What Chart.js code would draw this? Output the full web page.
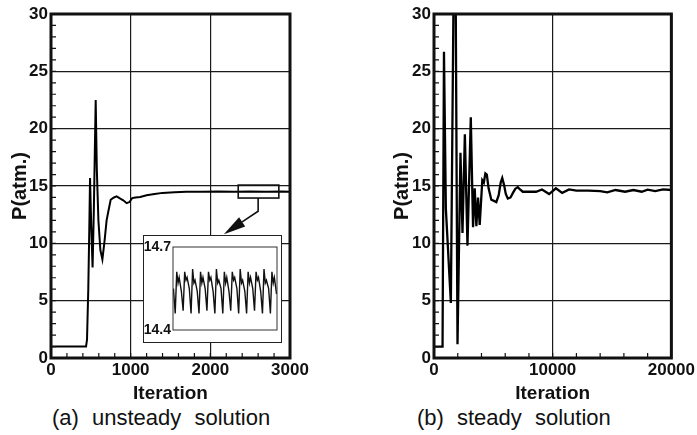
<!DOCTYPE html>
<html><head><meta charset="utf-8">
<script src="https://cdn.jsdelivr.net/npm/chart.js@4.4.1/dist/chart.umd.min.js"></script>
<style>
html,body{margin:0;padding:0;background:#fff;width:697px;height:435px;overflow:hidden;position:relative;font-family:'Liberation Sans',Arial,sans-serif;}
canvas{position:absolute;}
#ca{left:0;top:0;}
#cb{left:380px;top:0;}
#inset{position:absolute;left:143px;top:235px;width:139px;height:108px;box-sizing:border-box;border:1px solid #222;background:#fff;}
#ci{left:0;top:0;}
.cap{position:absolute;top:406px;font-size:22px;line-height:24px;word-spacing:7px;color:#111;white-space:nowrap;}
</style></head><body>
<canvas id="ca" width="345" height="405"></canvas>
<canvas id="cb" width="317" height="405"></canvas>
<div id="inset"><canvas id="ci" width="137" height="106"></canvas></div>
<div class="cap" style="left:52px">(a) unsteady solution</div>
<div class="cap" style="left:417px">(b) steady solution</div>
<script>
// ---- data ----
const iterA  = [0, 440, 452, 468, 480, 490, 505, 522, 538, 550, 561, 575, 595, 620, 645, 672, 698, 720, 749, 790, 824, 870, 907, 950, 985, 1020, 1060, 1120, 1200, 1300, 1400, 1550, 1700, 1900, 2100, 2300, 2500, 2700, 2900, 3000];
const pressA = [1.0, 1.0, 1.6, 6.0, 11.0, 15.7, 11.5, 7.9, 13.0, 18.0, 22.5, 16.5, 12.0, 9.4, 8.6, 10.2, 12.0, 12.8, 13.8, 14.0, 14.1, 13.9, 13.75, 13.5, 13.6, 13.95, 14.0, 14.05, 14.2, 14.3, 14.4, 14.45, 14.5, 14.5, 14.52, 14.5, 14.52, 14.5, 14.52, 14.5];

const iterB  = [0, 720, 840, 1000, 1420, 1760, 1980, 2230, 2400, 2600, 2820, 3100, 3290, 3430, 3570, 3710, 3850, 4070, 4200, 4330, 4450, 4600, 4830, 5050, 5250, 5450, 5620, 5750, 5900, 6050, 6220, 6450, 6650, 6850, 7060, 7250, 7480, 8000, 8600, 9100, 9700, 10270, 10800, 11380, 12000, 13000, 14000, 14600, 15300, 16100, 16800, 17500, 18000, 18640, 19300, 20000];
const pressB = [1.0, 1.0, 26.7, 13.0, 4.8, 45.0, 1.2, 17.9, 10.9, 19.5, 9.8, 21.0, 11.4, 14.8, 11.5, 14.0, 11.6, 15.5, 15.3, 16.1, 16.0, 14.8, 13.8, 13.7, 13.6, 14.2, 15.3, 15.7, 15.1, 14.3, 13.9, 14.0, 14.4, 14.75, 14.9, 14.7, 14.5, 14.5, 14.5, 14.7, 14.3, 14.8, 14.4, 14.7, 14.6, 14.6, 14.55, 14.45, 14.65, 14.5, 14.65, 14.5, 14.68, 14.55, 14.7, 14.65];

const insetIter  = [2392,
  2400,2407,2413,2418,2428, 2436,2443,2449,2454,2464, 2472,2479,2485,2490,2500,
  2508,2515,2521,2526,2536, 2544,2551,2557,2562,2572, 2580,2587,2593,2598,2608,
  2616,2623,2629,2634,2644, 2652,2659,2665,2670,2680, 2688,2695,2701,2706,2716,
  2724,2731,2737,2742,2752, 2760,2767,2773,2778,2788, 2796,2803,2809,2814,2824,
  2832,2839,2845,2850,2860];
const insetPress = [14.55,
  14.46,14.61,14.57,14.59,14.54, 14.47,14.61,14.58,14.59,14.55, 14.46,14.62,14.57,14.58,14.54,
  14.46,14.61,14.57,14.59,14.55, 14.47,14.61,14.58,14.59,14.54, 14.46,14.62,14.57,14.58,14.55,
  14.46,14.61,14.57,14.59,14.54, 14.47,14.61,14.58,14.59,14.55, 14.46,14.62,14.57,14.58,14.54,
  14.46,14.61,14.57,14.59,14.55, 14.47,14.61,14.58,14.59,14.54, 14.46,14.62,14.57,14.58,14.55,
  14.46,14.61,14.57,14.59,14.53];

const yTickLabels      = [0, 5, 10, 15, 20, 25, 30];
const xTickLabelsA     = [0, 1000, 2000, 3000];
const xTickLabelsB     = [0, 10000, 20000];
const insetYTickLabels = [14.4, 14.7];

// zoom marker (data units of chart a)
const zoomBox   = {x0: 2350, x1: 2860, y0: 13.95, y1: 15.08};
const arrowPath = [[2600, 13.95], [2600, 12.8], [2170, 10.8]];

Chart.defaults.font.family = "'Liberation Sans', Arial, sans-serif";
Chart.defaults.color = '#111';

// frame + inward minor ticks (axis decoration)
const framePlugin = {
  id: 'frame',
  afterDatasetsDraw(chart, args, opts) {
    const {left, top, right, bottom} = chart.chartArea;
    const ctx = chart.ctx;
    ctx.save();
    if (opts.xStep || opts.yStep) {
      ctx.strokeStyle = '#111'; ctx.lineWidth = 1.2;
      const len = opts.tickLen || 5;
      ctx.beginPath();
      if (opts.xStep) {
        const xs = chart.scales.x;
        for (let v = xs.min; v <= xs.max + 1e-9; v += opts.xStep) {
          const p = xs.getPixelForValue(v);
          ctx.moveTo(p, bottom); ctx.lineTo(p, bottom - len);
        }
      }
      if (opts.yStep) {
        const ys = chart.scales.y;
        for (let v = ys.min; v <= ys.max + 1e-9; v += opts.yStep) {
          const p = ys.getPixelForValue(v);
          ctx.moveTo(left, p); ctx.lineTo(left + len, p);
        }
      }
      ctx.stroke();
    }
    ctx.strokeStyle = opts.color || '#111';
    ctx.lineWidth = opts.width || 3;
    ctx.strokeRect(left, top, right - left, bottom - top);
    ctx.restore();
  }
};

const zoomMarkPlugin = {
  id: 'zoomMark',
  afterDatasetsDraw(chart) {
    const xs = chart.scales.x, ys = chart.scales.y, ctx = chart.ctx;
    const x0 = xs.getPixelForValue(zoomBox.x0), x1 = xs.getPixelForValue(zoomBox.x1);
    const y0 = ys.getPixelForValue(zoomBox.y1), y1 = ys.getPixelForValue(zoomBox.y0);
    ctx.save();
    ctx.strokeStyle = '#111'; ctx.fillStyle = '#111'; ctx.lineWidth = 1.6;
    ctx.strokeRect(x0, y0, x1 - x0, y1 - y0);
    const pts = arrowPath.map(([a, b]) => [xs.getPixelForValue(a), ys.getPixelForValue(b)]);
    const [tx, ty] = pts[pts.length - 1], [px, py] = pts[pts.length - 2];
    const ang = Math.atan2(ty - py, tx - px), headLen = 22, headW = 5.5;
    const bx = tx - headLen * Math.cos(ang), by = ty - headLen * Math.sin(ang);
    ctx.beginPath();
    ctx.moveTo(pts[0][0], pts[0][1]);
    for (let i = 1; i < pts.length - 1; i++) ctx.lineTo(pts[i][0], pts[i][1]);
    ctx.lineTo(bx, by);
    ctx.stroke();
    ctx.beginPath();
    ctx.moveTo(tx, ty);
    ctx.lineTo(bx + headW * Math.sin(ang), by - headW * Math.cos(ang));
    ctx.lineTo(bx - headW * Math.sin(ang), by + headW * Math.cos(ang));
    ctx.closePath(); ctx.fill();
    ctx.restore();
  }
};

function mainChart(id, iters, press, xMax, xStep, xLabels, extra, yAxisW, yTitlePad, padRight, lw) {
  return new Chart(document.getElementById(id), {
    type: 'line',
    data: {datasets: [{
      data: iters.map((x, i) => ({x: x, y: press[i]})),
      borderColor: '#000', borderWidth: lw, pointRadius: 0, tension: 0, fill: false
    }]},
    options: {
      responsive: false, animation: false, devicePixelRatio: 1,
      layout: {padding: {left: 0, top: 14, right: padRight, bottom: 0}},
      plugins: {legend: {display: false}, tooltip: {enabled: false},
                frame: {width: 3, color: '#111', xStep: xStep, yStep: 1, tickLen: 5}},
      scales: {
        x: {
          type: 'linear', min: 0, max: xMax, position: 'bottom',
          border: {display: false},
          afterBuildTicks: s => { s.ticks = xLabels.map(v => ({value: v})); },
          grid: {color: '#1a1a1a', lineWidth: 1.2, drawTicks: false},
          ticks: {autoSkip: false, maxRotation: 0, padding: 2, color: '#111',
                  font: {size: 17, weight: 'bold'}, callback: v => String(v)},
          title: {display: true, text: 'Iteration', color: '#111', font: {size: 19, weight: 'bold'}, padding: {top: 0, bottom: 0}},
          afterFit: s => { s.height = 47; }
        },
        y: {
          type: 'linear', min: 0, max: 30, position: 'left',
          border: {display: false},
          afterBuildTicks: s => { s.ticks = yTickLabels.map(v => ({value: v})); },
          grid: {color: '#1a1a1a', lineWidth: 1.2, drawTicks: false},
          ticks: {autoSkip: false, padding: 3, color: '#111',
                  font: {size: 17, weight: 'bold'}, callback: v => String(v)},
          title: {display: true, text: 'P(atm.)', color: '#111', font: {size: 20, weight: 'bold'}, padding: {top: yTitlePad, bottom: 0}},
          afterFit: s => { s.width = yAxisW; }
        }
      }
    },
    plugins: [framePlugin].concat(extra)
  });
}

mainChart('ca', iterA, pressA, 3000, 200, xTickLabelsA, [zoomMarkPlugin], 51, 8, 55, 2);
mainChart('cb', iterB, pressB, 20000, 2000, xTickLabelsB, [], 54, 10, 24, 2.3);

new Chart(document.getElementById('ci'), {
  type: 'line',
  data: {datasets: [{
    data: insetIter.map((x, i) => ({x: x, y: insetPress[i]})),
    borderColor: '#111', borderWidth: 1.4, pointRadius: 0, tension: 0, fill: false
  }]},
  options: {
    responsive: false, animation: false, devicePixelRatio: 1,
    layout: {padding: {left: 0, top: 11, right: 4, bottom: 12}},
    plugins: {legend: {display: false}, tooltip: {enabled: false}, frame: {width: 1, color: '#333'}},
    scales: {
      x: {type: 'linear', min: 2390, max: 2862, display: false},
      y: {
        type: 'linear', min: 14.4, max: 14.7,
        border: {display: false},
        grid: {display: false, drawTicks: false},
        afterBuildTicks: s => { s.ticks = insetYTickLabels.map(v => ({value: v})); },
        ticks: {padding: 2, autoSkip: false, color: '#111', font: {size: 14, weight: 'bold'},
                callback: v => Number(v).toFixed(1)},
        afterFit: s => { s.width = 29; }
      }
    }
  },
  plugins: [framePlugin]
});
</script>
</body></html>
